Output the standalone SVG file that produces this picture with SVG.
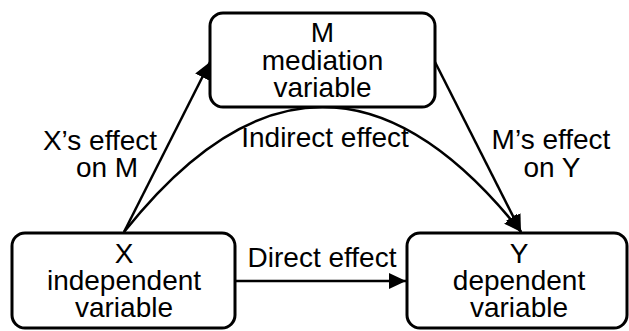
<svg xmlns="http://www.w3.org/2000/svg" width="629" height="331" viewBox="0 0 629 331">
  <style>
    .box { fill: #ffffff; stroke: #000000; stroke-width: 3; }
    .t { font-family: "Liberation Sans", Arial, sans-serif; font-size: 28px; fill: #000000; text-anchor: middle; }
    .edge { fill: none; stroke: #000000; stroke-width: 2.5; marker-end: url(#arrow); }
  </style>
  <defs>
    <marker id="arrow" markerUnits="userSpaceOnUse" viewBox="0 0 17 16" refX="17" refY="8" markerWidth="17" markerHeight="16" orient="auto">
      <path d="M0,0 L17,8 L0,16 z" fill="#000000"/>
    </marker>
  </defs>
  <rect width="629" height="331" fill="#ffffff"/>
  <g id="connectors">
    <line class="edge" x1="124" y1="232" x2="210" y2="62"/>
    <line class="edge" x1="435" y1="62" x2="521" y2="232"/>
    <path class="edge" d="M124,232 Q322.5,-18 521,232"/>
    <line class="edge" x1="235" y1="281" x2="406" y2="281"/>
  </g>
  <g id="labels">
    <text class="t" x="100" y="150">X’s effect</text>
    <text class="t" x="107" y="177">on M</text>
    <text class="t" x="325" y="147">Indirect effect</text>
    <text class="t" x="551" y="149">M’s effect</text>
    <text class="t" x="552" y="177">on Y</text>
    <text class="t" x="322" y="267">Direct effect</text>
  </g>
  <g id="node-M">
    <rect class="box" x="210" y="13" width="225" height="94" rx="13"/>
    <text class="t" x="322.5" y="42">M</text>
    <text class="t" x="322.5" y="70">mediation</text>
    <text class="t" x="322.5" y="97">variable</text>
  </g>
  <g id="node-X">
    <rect class="box" x="12" y="233" width="223" height="95" rx="13"/>
    <text class="t" x="124" y="263">X</text>
    <text class="t" x="124" y="290">independent</text>
    <text class="t" x="124" y="317">variable</text>
  </g>
  <g id="node-Y">
    <rect class="box" x="407" y="233" width="220" height="95" rx="13"/>
    <text class="t" x="519" y="263">Y</text>
    <text class="t" x="519" y="290">dependent</text>
    <text class="t" x="519" y="317">variable</text>
  </g>
</svg>
